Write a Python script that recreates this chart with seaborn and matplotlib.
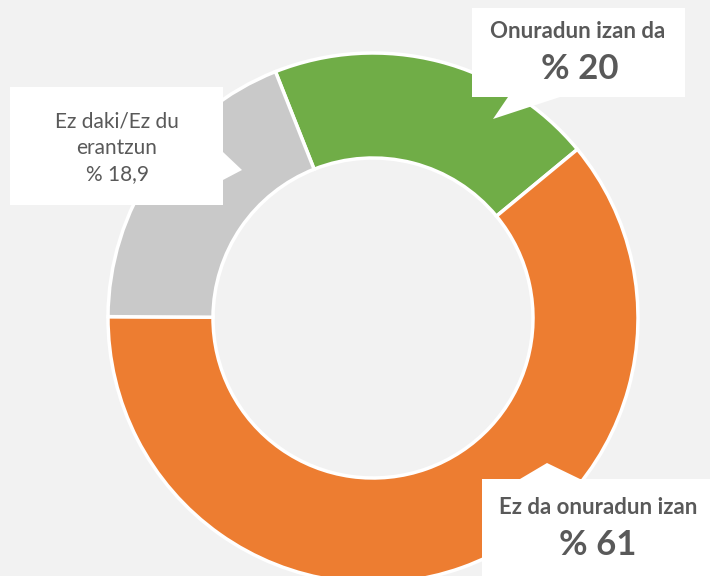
import matplotlib
matplotlib.use('Agg')
import matplotlib.pyplot as plt
from matplotlib.patches import Polygon
import seaborn as sns

# Data
labels = ['Onuradun izan da', 'Ez da onuradun izan', 'Ez daki/Ez du erantzun']
values = [20, 61, 18.9]
value_text = ['% 20', '% 61', '% 18,9']
colors = ['#70AD47', '#ED7D31', '#C9C9C9']

sns.set_style('white', {'axes.facecolor': '#F2F2F2', 'figure.facecolor': '#F2F2F2'})
plt.rcParams['font.family'] = ['Lato', 'DejaVu Sans']

fig = plt.figure(figsize=(7.1, 5.76), dpi=100)
ax = fig.add_axes([0, 0, 1, 1])
ax.axis('off')
fig.patch.set_facecolor('#F2F2F2')

# donut (y axis inverted, so counterclock=True draws clockwise on screen)
ax.pie(values, colors=colors, center=(373, 318), radius=265,
       startangle=-111.6, counterclock=True,
       wedgeprops=dict(width=105, edgecolor='white', linewidth=2.5))
ax.set_xlim(0, 710)
ax.set_ylim(576, 0)
ax.set_aspect('equal')

txt_col = '#595959'

# callout for green slice
ax.add_patch(Polygon([(472, 8), (685, 8), (685, 97), (560, 97), (493, 119),
                      (508, 97), (472, 97)], closed=True, fc='white', ec='none', zorder=3))
ax.text(578, 31, labels[0], ha='center', va='center', fontsize=16,
        fontweight='bold', color=txt_col, zorder=4)
ax.text(580, 69, value_text[0], ha='center', va='center', fontsize=25,
        fontweight='bold', color=txt_col, zorder=4)

# callout for grey slice
ax.add_patch(Polygon([(10, 87), (223, 87), (223, 152), (242, 170), (223, 180),
                      (223, 205), (10, 205)], closed=True, fc='white', ec='none', zorder=3))
ax.text(117, 148, 'Ez daki/Ez du\nerantzun\n' + value_text[2], ha='center', va='center',
        fontsize=15, color=txt_col, linespacing=1.4, zorder=4)

# callout for orange slice
ax.add_patch(Polygon([(482, 479), (520, 479), (547, 463), (580, 479), (710, 479),
                      (710, 576), (482, 576)], closed=True, fc='white', ec='none', zorder=3))
ax.text(598, 507, labels[1], ha='center', va='center', fontsize=16,
        fontweight='bold', color=txt_col, zorder=4)
ax.text(598, 545, value_text[1], ha='center', va='center', fontsize=25,
        fontweight='bold', color=txt_col, zorder=4)

fig.savefig('out.png', dpi=100, facecolor=fig.get_facecolor())
